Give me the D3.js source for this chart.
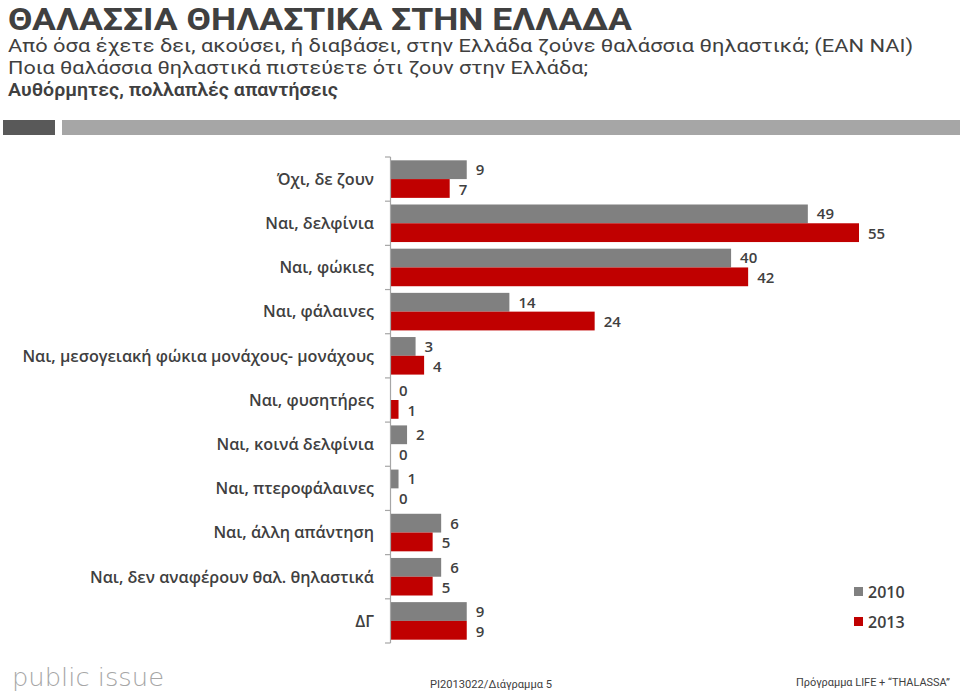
<!DOCTYPE html>
<html><head><meta charset="utf-8">
<script src="https://cdn.jsdelivr.net/npm/d3@7/dist/d3.min.js"></script>
<style>body{margin:0;background:#fff}svg{display:block}</style>
</head><body>
<script>
const categories = ["Όχι, δε ζουν","Ναι, δελφίνια","Ναι, φώκιες","Ναι, φάλαινες","Ναι, μεσογειακή φώκια μονάχους- μονάχους","Ναι, φυσητήρες","Ναι, κοινά δελφίνια","Ναι, πτεροφάλαινες","Ναι, άλλη απάντηση","Ναι, δεν αναφέρουν θαλ. θηλαστικά","ΔΓ"];
const values2010 = [9,49,40,14,3,0,2,1,6,6,9];
const values2013 = [7,55,42,24,4,1,0,0,5,5,9];
const seriesNames = ["2010","2013"];
const colors = ["#808080","#c00000"];

const W=960,H=692;
const svg=d3.select("body").append("svg").attr("width",W).attr("height",H);
const font="'Open Sans','Liberation Sans',sans-serif";
const narrow="'Liberation Sans Narrow','Roboto',sans-serif";

// header
svg.append("text").attr("x",8).attr("y",30).text("ΘΑΛΑΣΣΙΑ ΘΗΛΑΣΤΙΚΑ ΣΤΗΝ ΕΛΛΑΔΑ")
  .attr("font-family",narrow).attr("font-weight","bold").attr("font-size",31).attr("fill","#404040")
  .attr("textLength",624).attr("lengthAdjust","spacingAndGlyphs");
const sub=[["Από όσα έχετε δει, ακούσει, ή διαβάσει, στην Ελλάδα ζούνε θαλάσσια θηλαστικά; (ΕΑΝ ΝΑΙ)",52,905,"normal"],
 ["Ποια θαλάσσια θηλαστικά πιστεύετε ότι ζουν στην Ελλάδα;",74,580,"normal"],
 ["Αυθόρμητες, πολλαπλές απαντήσεις",96,330,"600"]];
sub.forEach(s=>svg.append("text").attr("x",8).attr("y",s[1]).text(s[0])
  .attr("font-family",narrow).attr("font-size",18.5).attr("font-weight",s[3])
  .attr("fill","#404040").attr("textLength",s[2]).attr("lengthAdjust","spacingAndGlyphs"));
svg.append("rect").attr("x",3).attr("y",120).attr("width",52).attr("height",15).attr("fill","#595959");
svg.append("rect").attr("x",62).attr("y",120).attr("width",898).attr("height",15).attr("fill","#a6a6a6");

// chart
const x=d3.scaleLinear().domain([0,55]).range([390,859]);
const y=d3.scaleBand().domain(categories).range([157,643]).paddingInner(0.15).paddingOuter(0.075);
const y1=d3.scaleBand().domain(seriesNames).range([0,y.bandwidth()]);

const g=svg.append("g");
const data=categories.map((c,i)=>({c,vals:[values2010[i],values2013[i]]}));
const grp=g.selectAll("g.cat").data(data).join("g").attr("transform",d=>`translate(0,${y(d.c)})`);
grp.selectAll("rect").data(d=>d.vals.map((v,k)=>({v,k}))).join("rect")
  .attr("x",x(0)).attr("y",d=>y1(seriesNames[d.k])).attr("height",y1.bandwidth())
  .attr("width",d=>x(d.v)-x(0)).attr("fill",d=>colors[d.k]);
grp.selectAll("text").data(d=>d.vals.map((v,k)=>({v,k}))).join("text")
  .attr("x",d=>x(d.v)+9).attr("y",d=>y1(seriesNames[d.k])+y1.bandwidth()/2+(d.k?1:0)).attr("dy","0.36em")
  .text(d=>d.v).attr("font-family",font).attr("font-weight",600).attr("font-size",15).attr("fill","#404040");

// axis
const ticks=d3.range(categories.length+1).map(i=>157+i*(486/categories.length));
svg.append("line").attr("x1",390.5).attr("x2",390.5).attr("y1",157).attr("y2",643).attr("stroke","#a6a6a6").attr("stroke-width",1.2);
svg.selectAll("line.tk").data(ticks).join("line").attr("class","tk").attr("x1",385).attr("x2",390.5)
  .attr("y1",d=>d).attr("y2",d=>d).attr("stroke","#a6a6a6").attr("stroke-width",1.2);
svg.selectAll("text.cat").data(categories).join("text").attr("class","cat")
  .attr("x",374).attr("y",d=>y(d)+y.bandwidth()/2).attr("dy","0.36em").attr("text-anchor","end")
  .text(d=>d).attr("font-family",font).attr("font-weight",600).attr("font-size",16.2).attr("fill","#404040");

// legend
seriesNames.forEach((s,i)=>{
  const ly=592+i*30;
  svg.append("rect").attr("x",854).attr("y",ly-5).attr("width",9).attr("height",9).attr("fill",colors[i]);
  svg.append("text").attr("x",868).attr("y",ly).attr("dy","0.36em").text(s)
    .attr("font-family",font).attr("font-weight",600).attr("font-size",16).attr("fill","#404040");
});

// footer
svg.append("text").attr("x",12).attr("y",686).text("public issue").attr("font-family","'DejaVu Sans',sans-serif")
  .attr("font-size",24).attr("font-weight",300).attr("fill","#a6a6a6").attr("textLength",152).attr("lengthAdjust","spacingAndGlyphs");
svg.append("text").attr("x",430).attr("y",688).text("PI2013022/Διάγραμμα 5").attr("font-family",narrow)
  .attr("font-size",11).attr("fill","#404040").attr("textLength",122).attr("lengthAdjust","spacingAndGlyphs");
svg.append("text").attr("x",796).attr("y",686).text("Πρόγραμμα LIFE + “THALASSA”").attr("font-family",narrow)
  .attr("font-size",11).attr("fill","#404040").attr("textLength",154).attr("lengthAdjust","spacingAndGlyphs");
</script>
</body></html>
